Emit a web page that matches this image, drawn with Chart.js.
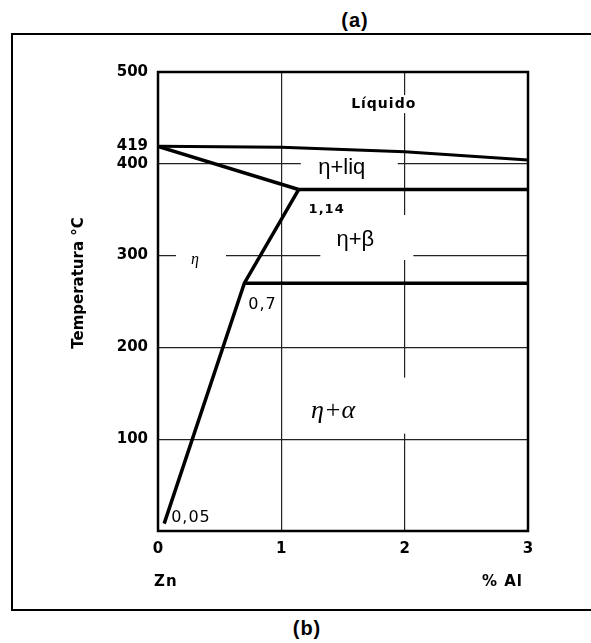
<!DOCTYPE html>
<html>
<head>
<meta charset="utf-8">
<script src="https://cdn.jsdelivr.net/npm/chart.js@4.4.1/dist/chart.umd.min.js"></script>
<style>
  body { margin: 0; background: #fff; }
  #wrap { position: relative; width: 591px; height: 643px; overflow: hidden; background: #fff; }
  #frame { position: absolute; left: 11px; top: 33px; width: 620px; height: 578px; border: 2.5px solid #000; box-sizing: border-box; }
  .cap { position: absolute; font: bold 20px "Liberation Sans", Arial, sans-serif; letter-spacing: 1px; transform: translateX(-50%); line-height: 24px; }
  canvas { position: absolute; left: 0; top: 0; }
</style>
</head>
<body>
<div id="wrap">
  <div id="frame"></div>
  <div class="cap" style="left:355px; top:8px">(a)</div>
  <div class="cap" style="left:307px; top:616px">(b)</div>
  <canvas id="chart" width="591" height="643"></canvas>
</div>
<script>
// Zn-Al phase diagram, zinc-rich corner
const alTicks = [0, 1, 2, 3];
const tempTicks = [100, 200, 300, 400, 419, 500];
const gridTemps = [100, 200, 300, 400];
const gridAl = [1, 2];

const liquidusAl = [0, 1, 2, 3];
const liquidusTemp = [419, 418, 413, 404];
const solidusAl = [0, 1.14];
const solidusTemp = [419, 372];
const solvusAl = [0.05, 0.7, 1.14];
const solvusTemp = [8, 270, 372];
const eutecticAl = [1.14, 3];
const eutecticTemp = [372, 372];
const eutectoidAl = [0.7, 3];
const eutectoidTemp = [270, 270];

// compositions written next to the corners of the boundaries
const cornerNotes = [
  { text: '0,05', al: 0.05, temp: 8, dx: 7, dy: -6, font: '16px "DejaVu Sans"' },
  { text: '0,7', al: 0.7, temp: 270, dx: 4, dy: 22, font: '16px "DejaVu Sans"' },
  { text: '1,14', al: 1.14, temp: 372, dx: 10, dy: 20, font: 'bold 13px "DejaVu Sans"' }
];

// field names, each on a white patch that breaks the grid behind it
const phaseLabels = [
  { text: 'Líquido', al: 1.83, temp: 465, box: [-38, -9, 76, 18], font: 'bold 14px "DejaVu Sans"', spacing: '1px' },
  { text: 'η+liq', al: 1.49, temp: 395, box: [-41, -15, 97, 30], font: '22px "Liberation Sans"' },
  { text: 'η+β', al: 1.60, temp: 317, box: [-35, -25, 93, 45], font: '22px "Liberation Sans"' },
  { text: 'η', al: 0.30, temp: 295, box: [-19, -14, 50, 20], font: 'italic 16px "Liberation Serif"' },
  { text: 'η+α', al: 1.42, temp: 130, box: [-43, -34, 128, 56], font: 'italic 26px "Liberation Serif"' }
];

const toPoints = (xs, ys) => xs.map((x, i) => ({ x: x, y: ys[i] }));

const boundary = (xs, ys, width) => ({
  data: toPoints(xs, ys),
  showLine: true,
  borderColor: '#000',
  borderWidth: width,
  pointRadius: 0,
  tension: 0,
  fill: false
});

const decor = {
  id: 'decor',
  beforeDatasetsDraw(chart) {
    const { ctx, scales: { x, y } } = chart;
    ctx.save();
    ctx.fillStyle = '#fff';
    phaseLabels.forEach(l => {
      const px = x.getPixelForValue(l.al);
      const py = y.getPixelForValue(l.temp);
      ctx.fillRect(px + l.box[0], py + l.box[1], l.box[2], l.box[3]);
    });
    ctx.restore();
  },
  afterDatasetsDraw(chart) {
    const { ctx, chartArea: a, scales: { x, y } } = chart;
    ctx.save();
    ctx.strokeStyle = '#000';
    ctx.lineWidth = 2.5;
    ctx.strokeRect(a.left, a.top, a.right - a.left, a.bottom - a.top);

    ctx.fillStyle = '#000';
    ctx.textBaseline = 'middle';
    ctx.textAlign = 'center';
    phaseLabels.forEach(l => {
      ctx.font = l.font;
      ctx.letterSpacing = l.spacing || '0px';
      ctx.fillText(l.text, x.getPixelForValue(l.al), y.getPixelForValue(l.temp));
    });
    ctx.letterSpacing = '1px';
    ctx.textAlign = 'left';
    cornerNotes.forEach(n => {
      ctx.font = n.font;
      ctx.fillText(n.text, x.getPixelForValue(n.al) + n.dx, y.getPixelForValue(n.temp) + n.dy);
    });

    // axis names
    ctx.font = 'bold 15px "DejaVu Sans"';
    ctx.textAlign = 'left';
    ctx.fillText('Zn', a.left - 4, 582);
    ctx.textAlign = 'right';
    ctx.fillText('% Al', a.right - 5, 582);
    ctx.letterSpacing = '0px';
    ctx.translate(79, 283);
    ctx.rotate(-Math.PI / 2);
    ctx.textAlign = 'center';
    ctx.fillText('Temperatura °C', 0, 0);
    ctx.restore();
  }
};

const tickFont = { family: 'DejaVu Sans', size: 15, weight: 'bold' };

new Chart(document.getElementById('chart'), {
  type: 'scatter',
  data: {
    datasets: [
      boundary(liquidusAl, liquidusTemp, 3),
      boundary(solidusAl, solidusTemp, 3.5),
      boundary(solvusAl, solvusTemp, 3.5),
      boundary(eutecticAl, eutecticTemp, 3.5),
      boundary(eutectoidAl, eutectoidTemp, 3.5)
    ]
  },
  options: {
    responsive: false,
    animation: false,
    layout: { padding: { left: 98, right: 63, top: 72, bottom: 72 } },
    plugins: { legend: { display: false }, tooltip: { enabled: false } },
    scales: {
      x: {
        type: 'linear',
        min: 0,
        max: 3,
        afterFit: s => { s.height = 40; },
        afterBuildTicks: s => { s.ticks = alTicks.map(v => ({ value: v })); },
        ticks: { color: '#000', padding: 9, autoSkip: false, maxRotation: 0, font: tickFont },
        grid: {
          drawTicks: false,
          lineWidth: 1.2,
          color: c => gridAl.includes(c.tick && c.tick.value) ? '#222' : 'rgba(0,0,0,0)'
        },
        border: { display: false }
      },
      y: {
        type: 'linear',
        min: 0,
        max: 500,
        afterFit: s => { s.width = 60; },
        afterBuildTicks: s => { s.ticks = tempTicks.map(v => ({ value: v })); },
        ticks: { color: '#000', padding: 10, autoSkip: false, font: tickFont },
        grid: {
          drawTicks: false,
          lineWidth: 1.2,
          color: c => gridTemps.includes(c.tick && c.tick.value) ? '#222' : 'rgba(0,0,0,0)'
        },
        border: { display: false }
      }
    }
  },
  plugins: [decor]
});
</script>
</body>
</html>
